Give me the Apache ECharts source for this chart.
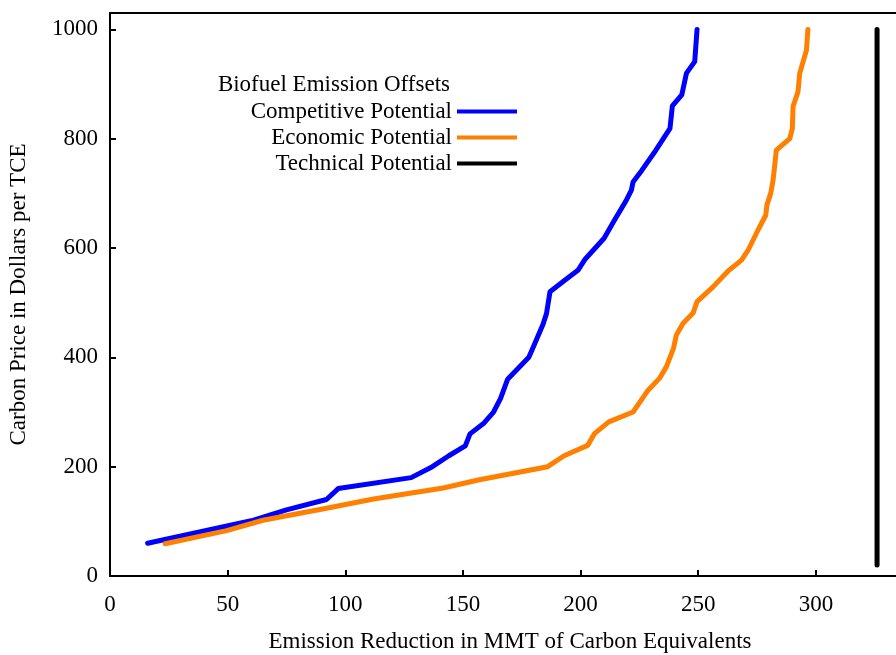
<!DOCTYPE html>
<html>
<head>
<meta charset="utf-8">
<script src="https://cdn.jsdelivr.net/npm/echarts@6/dist/echarts.min.js"></script>
<style>html,body{margin:0;padding:0;background:#fff;}#c{width:896px;height:655px;}</style>
</head>
<body>
<div id="c"></div>
<script>
const competitive = [[16,60],[60,101],[75,121],[92,140],[97,160],[128,180],[137,200],[144,220],[151,238],[153,260],[159,280],[163,300],[166,325],[169,360],[178,400],[180,420],[184,460],[185.5,480],[187,520],[193,540],[199,560],[202,580],[210,618],[214,648],[219.5,688],[221.6,706],[222.3,721],[226,742],[232,779],[238,819],[239,860],[243,880],[245,920],[248.5,941],[249.5,1000]];
const economic = [[23.4,59],[49.6,83],[65,102],[92,124],[112,141],[141.6,161],[157,176],[186,200],[193,220],[203,239],[206,261],[212,282],[222.3,300],[228.7,340],[233.6,362],[236.5,383],[239.5,417],[240.7,441],[243.5,462],[247.8,481],[249.5,502],[256.3,529],[262.7,558],[268.4,578],[271.2,596],[275.4,633],[278.7,660],[279.2,679],[280.8,700],[281.8,724],[283.2,779],[288.9,800],[290,819],[290.3,859],[292.4,886],[293.1,919],[296,962],[296.6,1000]];
const technical = [[326,20],[326,1000]];
const seriesNames = ['Competitive Potential','Economic Potential','Technical Potential'];
const legendTitle = 'Biofuel Emission Offsets';
const xTitle = 'Emission Reduction in MMT of Carbon Equivalents';
const yTitle = 'Carbon Price in Dollars per TCE';

const FONT = 'Liberation Serif';
const chart = echarts.init(document.getElementById('c'), null, {renderer:'canvas'});
function mk(name, data, color){
  return {name, type:'line', data, showSymbol:false, symbol:'none', smooth:false,
    lineStyle:{color, width:5, cap:'round', join:'round'}, itemStyle:{color}, animation:false};
}
chart.setOption({
  animation:false,
  backgroundColor:'#fff',
  grid:{left:110, top:13, bottom:79, right:-14, containLabel:false, outerBoundsMode:'none',
    show:true, borderColor:'#000', borderWidth:2, backgroundColor:'transparent'},
  graphic:[{type:'text', style:{text:legendTitle, x:450, y:85, textAlign:'right', textVerticalAlign:'middle', font:'23px "Liberation Serif"', fill:'#000'}}],
  legend:{orient:'vertical', align:'right', right:374, top:95, itemWidth:60, itemHeight:22, itemGap:3,
    icon:'path://M0,9 L60,9 L60,13 L0,13 Z',
    textStyle:{fontFamily:FONT, fontSize:23, color:'#000', padding:[0,0,0,0]},
    data:seriesNames},
  xAxis:{type:'value', min:0, max:340, interval:50,
    name:xTitle, nameLocation:'middle', nameGap:54, nameTextStyle:{fontFamily:FONT, fontSize:23, color:'#000'},
    axisLine:{show:true, lineStyle:{color:'#000', width:2}},
    axisTick:{show:true, inside:true, length:6, lineStyle:{color:'#000', width:2}},
    axisLabel:{fontFamily:FONT, fontSize:23, color:'#000', margin:17, showMaxLabel:false, formatter:v=>String(v)},
    splitLine:{show:false}},
  yAxis:{type:'value', min:0, max:1030, interval:200,
    name:yTitle, nameLocation:'middle', nameGap:80, nameTextStyle:{fontFamily:FONT, fontSize:23, color:'#000'},
    axisLine:{show:true, lineStyle:{color:'#000', width:2}},
    axisTick:{show:true, inside:true, length:6, lineStyle:{color:'#000', width:2}},
    axisLabel:{fontFamily:FONT, fontSize:23, color:'#000', margin:12, showMaxLabel:false, formatter:v=>String(v)},
    splitLine:{show:false}},
  series:[mk(seriesNames[0], competitive, '#0000ff'), mk(seriesNames[1], economic, '#ff7f00'), mk(seriesNames[2], technical, '#000000')]
});
</script>
</body>
</html>
